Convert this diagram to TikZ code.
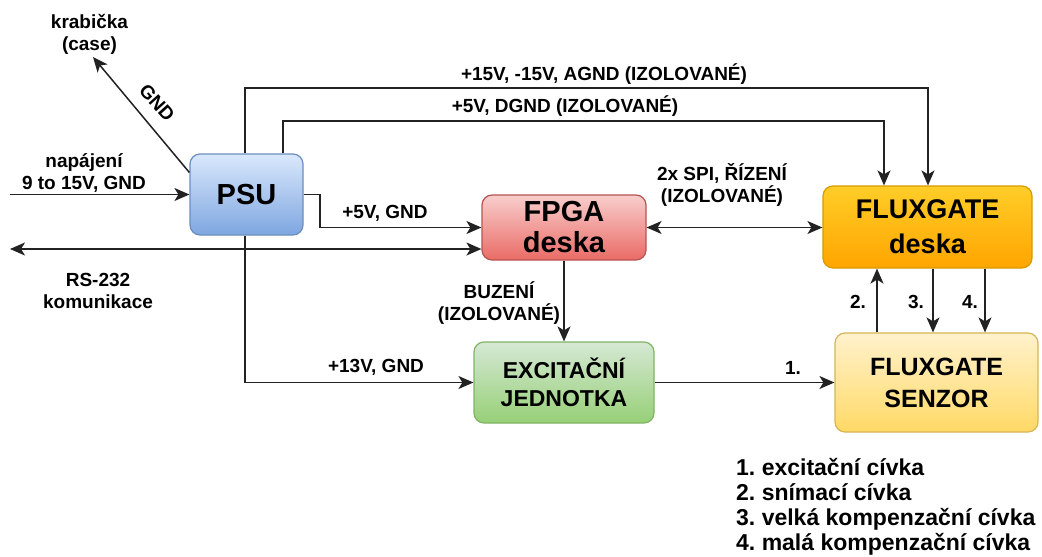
\documentclass[tikz,border=0pt]{standalone}
\usepackage{fontspec}
\setmainfont{Liberation Sans}
\usetikzlibrary{arrows.meta}
\definecolor{psutop}{HTML}{DAE8FC}\definecolor{psubot}{HTML}{7EA6E0}\definecolor{psudraw}{HTML}{6C8EBF}
\definecolor{fpgatop}{HTML}{F8CECC}\definecolor{fpgabot}{HTML}{EA6B66}\definecolor{fpgadraw}{HTML}{B85450}
\definecolor{fdtop}{HTML}{FFCD28}\definecolor{fdbot}{HTML}{FFA500}\definecolor{fddraw}{HTML}{D79B00}
\definecolor{exctop}{HTML}{D5E8D4}\definecolor{excbot}{HTML}{97D077}\definecolor{excdraw}{HTML}{82B366}
\definecolor{sentop}{HTML}{FFF2CC}\definecolor{senbot}{HTML}{FFD966}\definecolor{sendraw}{HTML}{D6B656}
\definecolor{linec}{HTML}{222222}
\frenchspacing
\begin{document}
\frenchspacing
\begin{tikzpicture}[x=1pt,y=-1pt,
  box/.style={rounded corners=10pt, line width=1.2pt, align=center, inner sep=0pt},
  lbl/.style={font=\bfseries\fontsize{19}{22}\selectfont, align=center, inner sep=0pt},
  leg/.style={font=\bfseries\fontsize{23}{25}\selectfont, anchor=base west, inner sep=0pt},
  conn/.style={draw=linec, line width=1.5pt, -{Stealth[length=15pt,width=13pt,inset=4pt]}},
  conn2/.style={draw=linec, line width=1.5pt, {Stealth[length=15pt,width=13pt,inset=4pt]}-{Stealth[length=15pt,width=13pt,inset=4pt]}},
 ]
\fill[white] (0,0) rectangle (1042,557);
\useasboundingbox (0,0) rectangle (1042,557);

% boxes
\node[box, minimum width=113pt, minimum height=81pt, top color=psutop, bottom color=psubot, draw=psudraw,
  font=\bfseries\fontsize{29}{33}\selectfont] (psu) at (246.5,194.5) {PSU};
\node[box, minimum width=164pt, minimum height=65pt, top color=fpgatop, bottom color=fpgabot, draw=fpgadraw,
  font=\bfseries\fontsize{29}{31}\selectfont] (fpga) at (564,227.5) {FPGA\\deska};
\node[box, minimum width=209pt, minimum height=82pt, top color=fdtop, bottom color=fdbot, draw=fddraw,
  font=\bfseries\fontsize{27}{35}\selectfont] (fluxd) at (927.5,227) {FLUXGATE\\deska};
\node[box, minimum width=180pt, minimum height=81pt, top color=exctop, bottom color=excbot, draw=excdraw,
  font=\bfseries\fontsize{23}{28}\selectfont] (exc) at (564,382.5) {EXCITAČNÍ\\JEDNOTKA};
\node[box, minimum width=203pt, minimum height=99pt, top color=sentop, bottom color=senbot, draw=sendraw,
  font=\bfseries\fontsize{25}{32}\selectfont] (senz) at (936.5,382.5) {FLUXGATE\\SENZOR};

% helper coordinates
\coordinate (r1l) at (245,88);  \coordinate (r1r) at (928,88);
\coordinate (r2l) at (283,121); \coordinate (r2r) at (884,121);
\coordinate (case) at (93,57);
\coordinate (pin) at (10,194.5);
\coordinate (rs) at (10,249);
\coordinate (k1) at (320,0);
\coordinate (c2) at (877,0);
\coordinate (c3) at (933,0);
\coordinate (c4) at (985,0);

% connectors
\draw[conn] (psu.north -| r1l) -- (r1l) -- (r1r) -- (fluxd.north -| r1r);
\draw[conn] (psu.north -| r2l) -- (r2l) -- (r2r) -- (fluxd.north -| r2r);
\draw[conn] ([yshift=22pt]psu.west) -- (case);
\draw[conn] (pin) -- (psu.west);
\draw[conn2] (rs) -- (rs -| fpga.west);
\draw[conn] (psu.east) -| (k1 |- fpga.west) -- (fpga.west);
\draw[conn] (psu.south -| r1l) |- (exc.west);
\draw[conn] (fpga.south) -- (exc.north);
\draw[conn2] (fpga.east) -- (fpga.east -| fluxd.west);
\draw[conn] (exc.east) -- (exc.east -| senz.west);
\draw[conn] (senz.north -| c2) -- (fluxd.south -| c2);
\draw[conn] (fluxd.south -| c3) -- (senz.north -| c3);
\draw[conn] (fluxd.south -| c4) -- (senz.north -| c4);

% labels
\node[lbl] (tcase) at (89.5,34) {krabička\\(case)};
\node[lbl, rotate=-48] (tgnd) at (157,103) {GND};
\node[lbl] (tpin) at (84,173) {napájení\\9 to 15V, GND};
\node[lbl] (trs) at (98,291) {RS-232\\komunikace};
\node[lbl] (t5v) at (385,213) {+5V, GND};
\node[lbl] (t15) at (604,74) {+15V, -15V, AGND (IZOLOVANÉ)};
\node[lbl] (t5d) at (565,106) {+5V, DGND (IZOLOVANÉ)};
\node[lbl] (tspi) at (722,185) {2x SPI, ŘÍZENÍ\\(IZOLOVANÉ)};
\node[lbl] (tbuz) at (499,303) {BUZENÍ\\(IZOLOVANÉ)};
\node[lbl] (t13) at (376,367) {+13V, GND};
\node[lbl] (t1) at (793,368) {1.};
\node[lbl] (t2) at (858,302) {2.};
\node[lbl] (t3) at (916,302) {3.};
\node[lbl] (t4) at (970,302) {4.};

% legend
\node[leg] (leg1) at (736,475) {1. excitační cívka};
\node[leg] (leg2) at (736,500) {2. snímací cívka};
\node[leg] (leg3) at (736,525) {3. velká kompenzační cívka};
\node[leg] (leg4) at (736,550) {4. malá kompenzační cívka};
\end{tikzpicture}
\end{document}
